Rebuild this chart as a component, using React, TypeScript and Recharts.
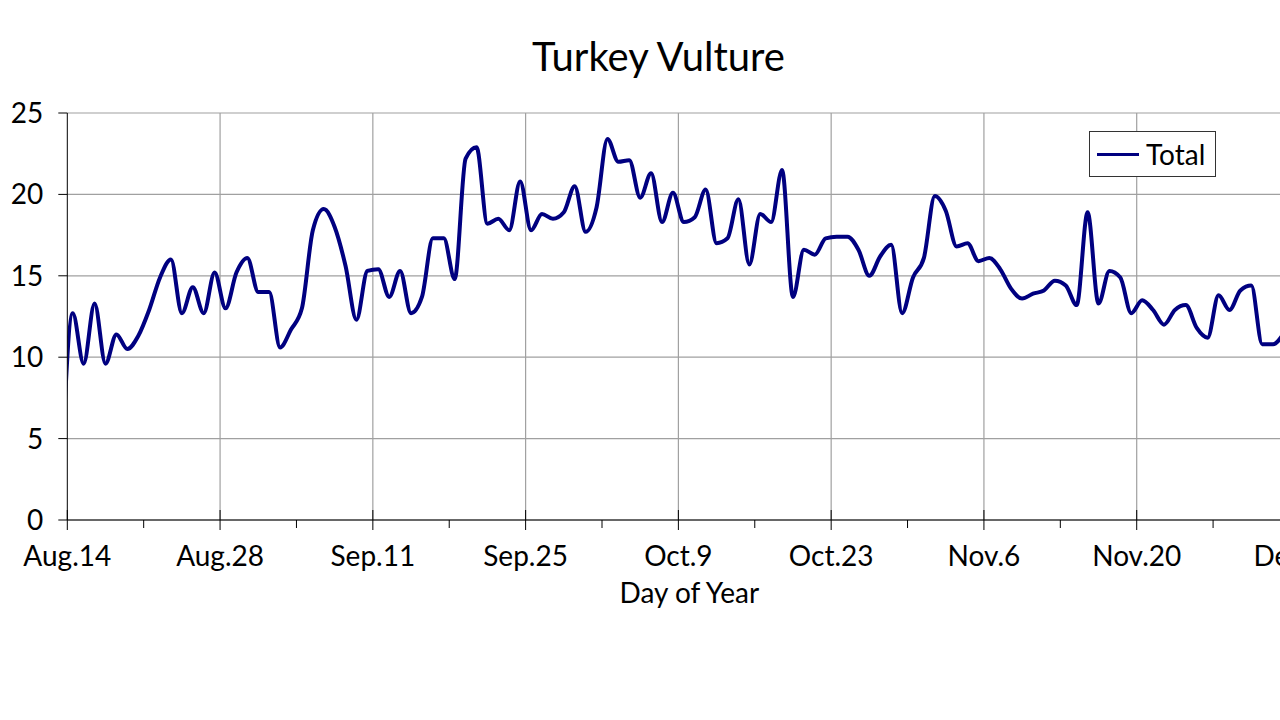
import { LineChart, Line, XAxis, YAxis, CartesianGrid, ReferenceLine, Legend, Label } from "recharts";

const FONT = "Lato, 'Noto Sans', sans-serif";

// daily totals, first value is the day before Aug.14 (clipped by the axis)
const totals = [
  3.5, 12.7, 9.6, 13.3, 9.6, 11.4, 10.5, 11.3, 12.9, 14.9, 16.0, 12.7, 14.3, 12.7, 15.2,
  13.0, 15.2, 16.1, 14.0, 14.0, 10.6, 11.7, 13.0, 17.8, 19.1, 18.0, 15.6, 12.3, 15.3, 15.4,
  13.7, 15.3, 12.7, 13.7, 17.3, 17.3, 14.8, 22.2, 22.9, 18.2, 18.5, 17.8, 20.8, 17.8, 18.8,
  18.5, 18.9, 20.5, 17.7, 19.2, 23.4, 22.0, 22.1, 19.8, 21.3, 18.3, 20.1, 18.3, 18.6, 20.3,
  17.0, 17.3, 19.7, 15.7, 18.8, 18.3, 21.5, 13.7, 16.6, 16.3, 17.3, 17.4, 17.4, 16.6, 15.0,
  16.2, 16.9, 12.7, 14.9, 16.1, 19.9, 19.0, 16.8, 17.0, 15.9, 16.1, 15.4, 14.2, 13.6, 13.9,
  14.1, 14.7, 14.4, 13.2, 18.9, 13.3, 15.3, 14.9, 12.7, 13.5, 12.9, 12.0, 12.9, 13.2, 11.8,
  11.2, 13.8, 12.9, 14.1, 14.4, 10.8, 10.8, 11.5,
];

// x ticks every week, labelled every two weeks
const weekTicks = [0, 7, 14, 21, 28, 35, 42, 49, 56, 63, 70, 77, 84, 91, 98, 105, 112];
const dateLabels = ["Aug.14", "Aug.28", "Sep.11", "Sep.25", "Oct.9", "Oct.23", "Nov.6", "Nov.20", "Dec.4"];
const yTicks = [0, 5, 10, 15, 20, 25];

const data = totals.map((v, i) => ({ day: i - 0.5, total: v }));
const majorTicks = weekTicks.filter((t) => t % 14 === 0 && t > 0);

const DateTick = (props: any) => {
  const { x, y, payload } = props;
  const major = payload.value % 14 === 0;
  return (
    <g>
      <line x1={x} x2={x} y1={major ? y - 10 : y} y2={major ? y + 10 : y + 8} stroke="#000" strokeWidth={1} />
      {major && (
        <text x={x} y={y + 46} textAnchor="middle" fontSize={28} fontFamily={FONT} fill="#000">
          {dateLabels[payload.value / 14]}
        </text>
      )}
    </g>
  );
};

const LegendBox = () => (
  <div
    style={{
      width: 127,
      height: 46,
      boxSizing: "border-box",
      border: "1px solid #333",
      background: "#fff",
      display: "flex",
      alignItems: "center",
      fontFamily: FONT,
      fontSize: 28,
    }}
  >
    <div style={{ width: 42, height: 3, background: "#000080", marginLeft: 7, marginRight: 7 }} />
    <span style={{ color: "#000" }}>Total</span>
  </div>
);

export default function App() {
  return (
    <div
      style={{
        position: "fixed",
        left: 0,
        top: 0,
        width: 1280,
        height: 720,
        overflow: "hidden",
        background: "#fff",
        fontFamily: FONT,
      }}
    >
      <div
        style={{
          position: "absolute",
          left: 0,
          top: 32,
          width: 1317,
          textAlign: "center",
          fontSize: 40,
          lineHeight: "48px",
          color: "#000",
        }}
      >
        Turkey Vulture
      </div>
      <LineChart
        width={1330}
        height={630}
        data={data}
        margin={{ top: 113, right: 18.7, left: 0, bottom: 20 }}
      >
        <CartesianGrid vertical={false} stroke="#a0a0a0" strokeWidth={1.2} />
        {majorTicks.map((t) => (
          <ReferenceLine key={t} x={t} stroke="#a0a0a0" strokeWidth={1.2} />
        ))}
        <XAxis
          dataKey="day"
          type="number"
          domain={[0, 114]}
          ticks={weekTicks}
          interval={0}
          allowDataOverflow
          height={90}
          tickSize={0}
          tickMargin={0}
          tickLine={false}
          axisLine={{ stroke: "#000", strokeWidth: 1 }}
          tick={<DateTick />}
        >
          <Label
            value="Day of Year"
            position="insideBottom"
            offset={7}
            style={{ fontSize: 28, fontFamily: FONT, fill: "#000" }}
          />
        </XAxis>
        <YAxis
          type="number"
          domain={[0, 25]}
          ticks={yTicks}
          width={67.3}
          tickSize={9}
          tickMargin={15}
          axisLine={{ stroke: "#000", strokeWidth: 1 }}
          tickLine={{ stroke: "#000", strokeWidth: 1 }}
          tick={{ fontSize: 28, fontFamily: FONT, fill: "#000" }}
        />
        <Legend
          verticalAlign="middle"
          align="center"
          wrapperStyle={{ left: 1089, top: 131, width: 127, height: 46 }}
          content={<LegendBox />}
        />
        <Line
          type="monotone"
          dataKey="total"
          name="Total"
          stroke="#000080"
          strokeWidth={4}
          dot={false}
          activeDot={false}
          isAnimationActive={false}
        />
      </LineChart>
    </div>
  );
}
